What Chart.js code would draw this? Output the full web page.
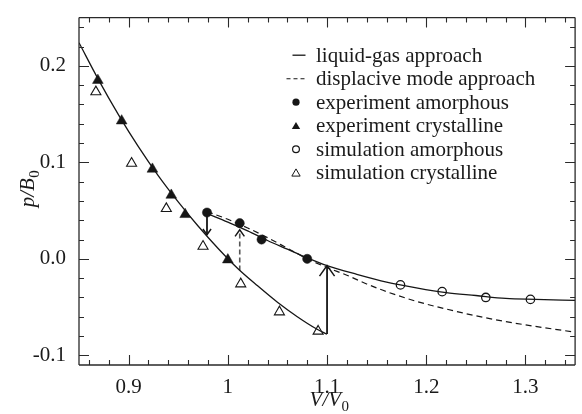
<!DOCTYPE html>
<html>
<head>
<meta charset="utf-8">
<script src="https://cdn.jsdelivr.net/npm/chart.js@4/dist/chart.umd.min.js"></script>
<style>
  html, body { margin: 0; padding: 0; background: #fff; }
  #wrap { width: 582px; height: 414px; }
</style>
</head>
<body>
<div id="wrap"><canvas id="c" width="582" height="414"></canvas></div>
<script>
// ---- data: reduced volume V/V0 and reduced pressure p/B0 ----
// liquid-gas approach, crystalline branch
const lgCrystV = [0.85, 0.87, 0.89, 0.91, 0.93, 0.95, 0.97, 0.99, 1.01, 1.03, 1.05, 1.07, 1.09, 1.10];
const lgCrystP = [0.224, 0.185, 0.149, 0.116, 0.086, 0.059, 0.034, 0.011, -0.010, -0.028, -0.045, -0.060, -0.073, -0.078];
// liquid-gas approach, amorphous branch
const lgAmorV = [0.979, 1.00, 1.02, 1.04, 1.06, 1.08, 1.10, 1.13, 1.16, 1.19, 1.22, 1.25, 1.28, 1.31, 1.35];
const lgAmorP = [0.047, 0.038, 0.029, 0.019, 0.010, 0.001, -0.007, -0.016, -0.024, -0.030, -0.035, -0.038, -0.041, -0.042, -0.043];
// displacive mode approach
const dispV = [0.979, 1.00, 1.02, 1.04, 1.06, 1.08, 1.10, 1.12, 1.14, 1.16, 1.19, 1.22, 1.25, 1.28, 1.31, 1.35];
const dispP = [0.049, 0.041, 0.032, 0.022, 0.011, 0.000, -0.009, -0.017, -0.026, -0.034, -0.044, -0.052, -0.059, -0.065, -0.070, -0.076];
// measured / simulated points
const expAmorV = [0.979, 1.012, 1.034, 1.080];
const expAmorP = [0.048, 0.037, 0.020, 0.000];
const expCrystV = [0.869, 0.893, 0.924, 0.943, 0.957, 1.000];
const expCrystP = [0.185, 0.143, 0.093, 0.066, 0.046, -0.001];
const simAmorV = [1.174, 1.216, 1.260, 1.305];
const simAmorP = [-0.027, -0.034, -0.040, -0.042];
const simCrystV = [0.867, 0.903, 0.938, 0.975, 1.013, 1.052, 1.091];
const simCrystP = [0.173, 0.099, 0.052, 0.013, -0.026, -0.055, -0.075];
// transition arrows: [V, p start, p end]
const arrowDown = [0.979, 0.047, 0.025];
const arrowDashed = [1.012, -0.012, 0.030];
const arrowUp = [1.100, -0.078, -0.007];
// axis ticks
const xTickValues = [0.9, 1.0, 1.1, 1.2, 1.3];
const xTickLabels = ['0.9', '1', '1.1', '1.2', '1.3'];
const yTickValues = [-0.1, 0.0, 0.1, 0.2];
const yTickLabels = ['-0.1', '0.0', '0.1', '0.2'];

const SERIF = '"Liberation Serif", "Times New Roman", serif';
const INK = '#161616';

const pts = (xs, ys) => xs.map((v, i) => ({ x: v, y: ys[i] }));
const seg = a => [{ x: a[0], y: a[1] }, { x: a[0], y: a[2] }];

const curve = (label, xs, ys, extra) => Object.assign({
  label, data: pts(xs, ys), showLine: true, borderColor: INK, borderWidth: 1.3,
  pointRadius: 0, pointHoverRadius: 0, cubicInterpolationMode: 'monotone', fill: false
}, extra || {});

const datasets = [
  curve('liquid-gas approach', lgCrystV, lgCrystP, { legendKind: 'line' }),
  curve('liquid-gas approach (amorphous)', lgAmorV, lgAmorP),
  curve('displacive mode approach', dispV, dispP, { borderDash: [6, 4], borderWidth: 1.2, legendKind: 'dash' }),
  { label: 'arrow1', data: seg(arrowDown), showLine: true, borderColor: INK, borderWidth: 1.8, pointRadius: 0, arrowHead: 7 },
  { label: 'arrow2', data: seg(arrowDashed), showLine: true, borderColor: '#555', borderWidth: 1.6, borderDash: [5, 3], pointRadius: 0, arrowHead: 8 },
  { label: 'arrow3', data: seg(arrowUp), showLine: true, borderColor: INK, borderWidth: 1.8, pointRadius: 0, arrowHead: 13 },
  { label: 'experiment amorphous', data: pts(expAmorV, expAmorP), pointStyle: 'circle', pointRadius: 4.6,
    backgroundColor: INK, borderColor: INK, borderWidth: 0.5, legendKind: 'fcircle' },
  { label: 'experiment crystalline', data: pts(expCrystV, expCrystP), pointStyle: 'triangle', pointRadius: 6.2,
    backgroundColor: INK, borderColor: INK, borderWidth: 0.5, legendKind: 'ftri' },
  { label: 'simulation amorphous', data: pts(simAmorV, simAmorP), pointStyle: 'circle', pointRadius: 4.2,
    backgroundColor: 'rgba(0,0,0,0)', borderColor: INK, borderWidth: 1.3, legendKind: 'ocircle' },
  { label: 'simulation crystalline', data: pts(simCrystV, simCrystP), pointStyle: 'triangle', pointRadius: 5.8,
    backgroundColor: 'rgba(255,255,255,0)', borderColor: INK, borderWidth: 1.1, legendKind: 'otri' }
];

// inward tick marks (major + minor) on all four sides, plus the frame
const framePlugin = {
  id: 'frame',
  afterDatasetsDraw(chart) {
    const { ctx, chartArea: a, scales: { x, y } } = chart;
    ctx.save();
    ctx.strokeStyle = '#2a2a2a';
    ctx.lineWidth = 1.3;
    ctx.beginPath();
    ctx.moveTo(a.left, a.top); ctx.lineTo(a.right, a.top);
    ctx.moveTo(a.left, a.top); ctx.lineTo(a.left, a.bottom);
    ctx.moveTo(a.left, a.bottom); ctx.lineTo(a.right, a.bottom);
    ctx.moveTo(a.right, a.top); ctx.lineTo(a.right, a.bottom);
    ctx.stroke();
    ctx.lineWidth = 1.1;
    ctx.beginPath();
    const step = 0.02;
    for (let k = Math.ceil(x.min / step - 1e-6); k * step <= x.max + 1e-6; k++) {
      const v = k * step;
      const major = Math.abs(v * 10 - Math.round(v * 10)) < 1e-6;
      const len = major ? 10 : 5;
      const px = Math.round(x.getPixelForValue(v)) + 0.5;
      ctx.moveTo(px, a.bottom); ctx.lineTo(px, a.bottom - len);
      ctx.moveTo(px, a.top); ctx.lineTo(px, a.top + len);
    }
    for (let k = Math.ceil(y.min / step - 1e-6); k * step <= y.max + 1e-6; k++) {
      const v = k * step;
      const major = Math.abs(v * 10 - Math.round(v * 10)) < 1e-6;
      const len = major ? 10 : 5;
      const py = Math.round(y.getPixelForValue(v)) + 0.5;
      ctx.moveTo(a.left, py); ctx.lineTo(a.left + len, py);
      ctx.moveTo(a.right, py); ctx.lineTo(a.right - len, py);
    }
    ctx.stroke();
    ctx.restore();
  }
};

// open chevron heads at the end of the arrow datasets
const arrowPlugin = {
  id: 'arrowHeads',
  afterDatasetsDraw(chart) {
    const ctx = chart.ctx;
    chart.data.datasets.forEach((ds, i) => {
      if (!ds.arrowHead) return;
      const el = chart.getDatasetMeta(i).data;
      const p0 = el[0], p1 = el[el.length - 1];
      const ang = Math.atan2(p0.y - p1.y, p0.x - p1.x);
      const half = 0.62, len = ds.arrowHead;
      ctx.save();
      ctx.strokeStyle = INK;
      ctx.lineWidth = 1.5;
      ctx.setLineDash([]);
      ctx.beginPath();
      ctx.moveTo(p1.x + Math.cos(ang + half) * len, p1.y + Math.sin(ang + half) * len);
      ctx.lineTo(p1.x, p1.y);
      ctx.lineTo(p1.x + Math.cos(ang - half) * len, p1.y + Math.sin(ang - half) * len);
      ctx.stroke();
      ctx.restore();
    });
  }
};

// axis titles with subscripts
function drawSubTitle(ctx, main, sub, cx, baseline) {
  ctx.font = 'italic 21px ' + SERIF;
  const w1 = ctx.measureText(main).width;
  ctx.font = '15px ' + SERIF;
  const w2 = ctx.measureText(sub).width;
  const x0 = cx - (w1 + w2) / 2;
  ctx.font = 'italic 21px ' + SERIF;
  ctx.fillText(main, x0, baseline);
  ctx.font = '15px ' + SERIF;
  ctx.fillText(sub, x0 + w1 + 0.5, baseline + 5);
}
const titlePlugin = {
  id: 'axisTitles',
  afterDraw(chart) {
    const { ctx, chartArea: a } = chart;
    ctx.save();
    ctx.fillStyle = '#1a1a1a';
    ctx.textBaseline = 'alphabetic';
    ctx.textAlign = 'left';
    drawSubTitle(ctx, 'V/V', '0', (a.left + a.right) / 2 + 2, 406);
    ctx.translate(34, 189);
    ctx.rotate(-Math.PI / 2);
    drawSubTitle(ctx, 'p/B', '0', 0, 0);
    ctx.restore();
  }
};

// legend inside the plot
const legendPlugin = {
  id: 'innerLegend',
  afterDraw(chart) {
    const ctx = chart.ctx;
    const rows = chart.data.datasets.filter(d => d.legendKind);
    const symX = 296, textX = 316, base0 = 61.7, step = 23.5;
    ctx.save();
    rows.forEach((d, i) => {
      const base = base0 + i * step;
      const cy = base - 6.5;
      ctx.strokeStyle = INK;
      ctx.fillStyle = INK;
      ctx.setLineDash([]);
      ctx.beginPath();
      switch (d.legendKind) {
        case 'line':
          ctx.lineWidth = 1.3;
          ctx.moveTo(292.5, cy); ctx.lineTo(305.5, cy); ctx.stroke();
          break;
        case 'dash':
          ctx.lineWidth = 1.1;
          ctx.setLineDash([4, 3]);
          ctx.moveTo(286.5, cy); ctx.lineTo(306, cy); ctx.stroke();
          break;
        case 'fcircle':
          ctx.arc(symX, cy, 3.6, 0, Math.PI * 2); ctx.fill();
          break;
        case 'ocircle':
          ctx.lineWidth = 1.2;
          ctx.arc(symX, cy, 3.4, 0, Math.PI * 2); ctx.stroke();
          break;
        case 'ftri':
        case 'otri': {
          const r = 4.8;
          for (let k = 0; k < 3; k++) {
            const t = k * 2 * Math.PI / 3;
            const px = symX + Math.sin(t) * r, py = cy + 1 - Math.cos(t) * r;
            if (k === 0) ctx.moveTo(px, py); else ctx.lineTo(px, py);
          }
          ctx.closePath();
          if (d.legendKind === 'ftri') ctx.fill(); else { ctx.lineWidth = 1; ctx.stroke(); }
          break;
        }
      }
      ctx.setLineDash([]);
      ctx.fillStyle = '#1a1a1a';
      ctx.font = '21px ' + SERIF;
      ctx.textBaseline = 'alphabetic';
      ctx.textAlign = 'left';
      ctx.fillText(d.label, textX, base);
    });
    ctx.restore();
  }
};

new Chart(document.getElementById('c'), {
  type: 'scatter',
  data: { datasets },
  options: {
    responsive: false,
    animation: false,
    devicePixelRatio: 1,
    layout: { padding: { top: 12, right: 0, left: 0, bottom: 0 } },
    plugins: { legend: { display: false }, tooltip: { enabled: false } },
    scales: {
      x: {
        type: 'linear', min: 0.85, max: 1.35,
        grid: { display: false }, border: { display: false },
        afterBuildTicks: s => { s.ticks = xTickValues.map(v => ({ value: v })); },
        afterFit: s => { s.height = 49; },
        ticks: {
          padding: 2, color: '#1a1a1a', font: { family: SERIF, size: 21 },
          callback: (v) => xTickLabels[xTickValues.findIndex(t => Math.abs(t - v) < 1e-6)]
        }
      },
      y: {
        type: 'linear', min: -0.11, max: 0.25,
        grid: { display: false }, border: { display: false },
        afterBuildTicks: s => { s.ticks = yTickValues.map(v => ({ value: v })); },
        afterFit: s => { s.width = 79; },
        ticks: {
          padding: 5, color: '#1a1a1a', font: { family: SERIF, size: 21 },
          callback: (v) => yTickLabels[yTickValues.findIndex(t => Math.abs(t - v) < 1e-6)]
        }
      }
    }
  },
  plugins: [framePlugin, arrowPlugin, titlePlugin, legendPlugin]
});
</script>
</body>
</html>
